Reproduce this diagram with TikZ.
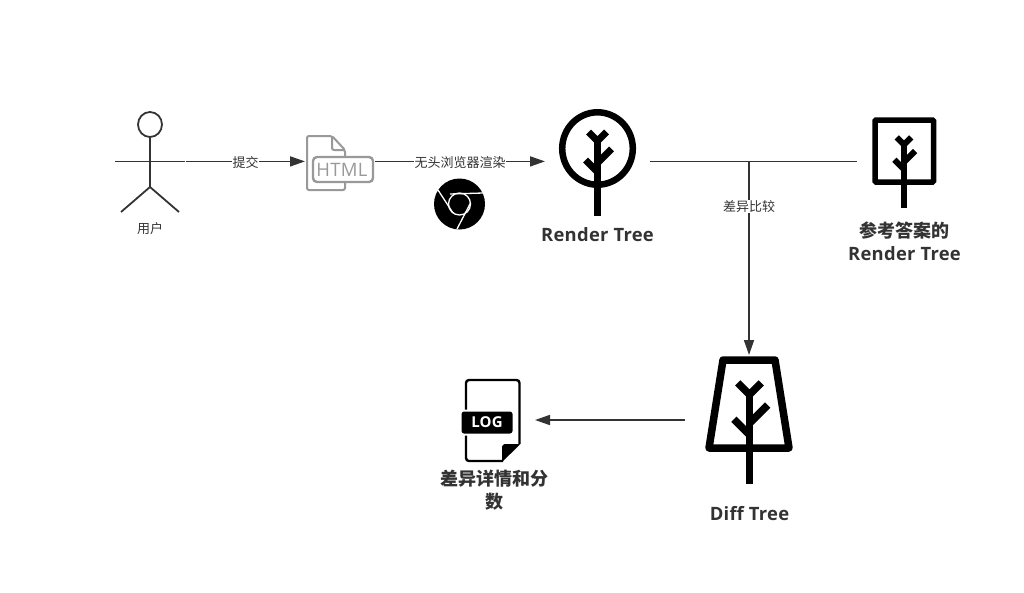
\documentclass[tikz,border=0pt]{standalone}
\usepackage{fontspec}
\setmainfont{Noto Sans CJK SC}
\newfontfamily\latinfont[LetterSpace=1.5]{Open Sans}
\usetikzlibrary{arrows.meta}
\definecolor{ink}{HTML}{333333}
\definecolor{htmlgray}{HTML}{999999}
\tikzset{
 icon/.style={inner sep=0,outer sep=0},
 flow/.style={draw=ink,line width=1.6pt,-{Triangle[length=15pt,width=10pt]}},
 link/.style={draw=ink,line width=1.6pt},
 small/.style={text=ink,font=\fontsize{13pt}{15pt}\selectfont},
 edgelabel/.style={small,fill=white,inner sep=0.5pt,yshift=-1.2pt},
 title/.style={text=ink,align=center,font=\fontsize{18pt}{23pt}\selectfont\bfseries},
 treetitle/.style={title,font=\latinfont\fontsize{18.4pt}{23pt}\selectfont\bfseries},
 figure/.style={draw=ink,line width=1.8pt},
 tree/.style={draw=black,line width=#1},
}
% #1 trunk x, #2 y of the branches, #3 scale, #4 stroke, #5 foot of the trunk
\newcommand{\treebody}[5]{
 \draw[tree=#4] (#1,#2-9*#3) -- (#1,#5);
 \draw[tree=#4] (#1-9*#3,#2-17*#3) -- (#1,#2-8*#3) -- (#1+9*#3,#2-17*#3);
 \draw[tree=#4] (#1,#2+14*#3) -- (#1+14*#3,#2);
 \draw[tree=#4] (#1,#2+23*#3) -- (#1-12*#3,#2+11*#3);
}
\begin{document}
\begin{tikzpicture}[x=1pt,y=-1pt]
\useasboundingbox (0,0) rectangle (1024,592);

% nodes that hold the icons
\node[icon,minimum width=72pt,minimum height=110pt] (user) at (150,161.4) {};
\node[icon,minimum width=70pt,minimum height=56pt] (html) at (340,161.4) {};
\node[icon,minimum width=105pt,minimum height=110pt] (render) at (597.5,161.4) {};
\node[icon,minimum width=94pt,minimum height=92pt] (answer) at (904,161.4) {};
\node[icon,minimum width=128pt,minimum height=130pt] (diff) at (749,420) {};
\node[icon,minimum width=100pt,minimum height=84pt] (log) at (485,420) {};
\coordinate (split) at (749,161.4);

% user
\draw[figure] (150,124.5) ellipse (12 and 12.5);
\draw[figure] (150,137) -- (150,187);
\draw[figure] (115,161.4) -- (184.8,161.4);
\draw[figure] (121,212) -- (150,187) -- (179,212);
\node[small] (userlabel) at (150,228.5) {用户};

% html file
\draw[draw=htmlgray,line width=2pt,rounded corners=2pt] (345,157) -- (345,150) -- (332,136) -- (307,136) -- (307,190) -- (345,190) -- (345,182);
\draw[draw=htmlgray,line width=2pt,rounded corners=2pt] (332,136) -- (332,150) -- (345,150);
\draw[draw=htmlgray,line width=2.4pt,rounded corners=4pt] (313,157) rectangle (373,182);
\node[icon,text=htmlgray,font=\latinfont\fontsize{18.5pt}{19pt}\selectfont] (htmltext) at (342,169.5) {HTML};

% chrome
\fill[black] (459.5,204) circle (25.5);
\draw[white,line width=1.3pt] (459.5,204) circle (11);
\draw[white,line width=1.3pt] (438,190) -- (453,213);
\draw[white,line width=1.3pt] (450,194) -- (483,193);
\draw[white,line width=1.3pt] (470.5,203) -- (457,229);

% trees
\draw[tree=6.5pt] (597.5,148.5) ellipse (35.3 and 36.2);
\treebody{597.5}{149}{1}{7pt}{216}
\node[treetitle] (rendertitle) at (597.5,234.5) {Render Tree};

\draw[tree=5.5pt,rounded corners=1pt] (875,120) rectangle (933.5,182);
\treebody{904}{151}{0.8}{6pt}{208}
\node[title] (answertitle) at (904.5,241) {参考答案的\\{\latinfont\fontsize{18.4pt}{23pt}\selectfont Render Tree}};

\draw[tree=7.5pt,line join=round] (723,360) -- (775,360) -- (789,448) -- (709,448) -- cycle;
\treebody{749.5}{405}{1.3}{7.5pt}{484}
\node[treetitle] (difftitle) at (749.5,513.5) {Diff Tree};

% log file
\draw[draw=black,line width=2.4pt,rounded corners=3pt] (503,461) -- (466,461) -- (466,380) -- (519.5,380) -- (519.5,444);
\fill[black,rounded corners=1pt] (502,462) -- (502,446) -- (504,444) -- (520.5,444) -- cycle;
\draw[white,line width=2pt,fill=black,rounded corners=3pt] (460.5,410.5) rectangle (513.5,434.5);
\node[icon,text=white,font=\latinfont\fontsize{15pt}{15pt}\selectfont\bfseries] (logtext) at (487,422.5) {LOG};
\node[title] (logtitle) at (494,490) {差异详情和分\\数};

% connectors
\path[flow] (user) -- node[edgelabel] (submit) {提交} (html);
\path[flow] (html) -- node[edgelabel] (browser) {无头浏览器渲染} (render);
\path[link] (render) -- (answer);
\path[flow] (split) -- node[edgelabel,pos=0.227] (compare) {差异比较} (diff);
\path[flow] (diff) -- (log);
\end{tikzpicture}
\end{document}
